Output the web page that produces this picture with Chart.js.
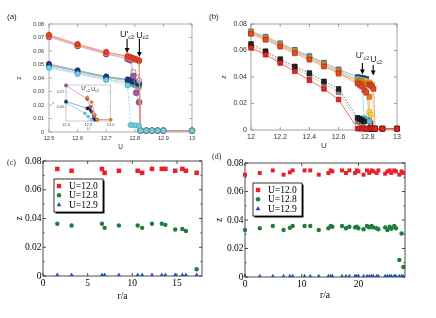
<!DOCTYPE html>
<html>
<head>
<meta charset="utf-8">
<script src="https://cdn.jsdelivr.net/npm/chart.js@4.4.1/dist/chart.umd.min.js"></script>
<style>
  html, body { margin: 0; padding: 0; background: #fff; }
  #fig { position: relative; width: 436px; height: 318px; overflow: hidden; }
  .panel { position: absolute; }
  .lbl { position: absolute; font: 8px "Liberation Sans", Arial, sans-serif; line-height: 1; color: #222; }
  .serif { font-family: "Liberation Serif", "Times New Roman", serif; }
</style>
</head>
<body>
<div id="fig">
  <canvas class="panel" id="chartA" width="216" height="159" style="left:0;top:0"></canvas>
  <canvas class="panel" id="chartIn" width="66" height="52" style="left:50px;top:80px"></canvas>
  <canvas class="panel" id="chartB" width="220" height="159" style="left:216px;top:0"></canvas>
  <canvas class="panel" id="chartC" width="216" height="168" style="left:0;top:150px"></canvas>
  <canvas class="panel" id="chartD" width="220" height="168" style="left:216px;top:150px"></canvas>
  <div class="lbl" style="left:7px;top:13px">(a)</div>
  <div class="lbl" style="left:209px;top:13px">(b)</div>
  <div class="lbl serif" style="left:7px;top:159px">(c)</div>
  <div class="lbl serif" style="left:212px;top:153px">(d)</div>
</div>
<script>
// ---- panel (a): z vs U, several lattice sites ----
const uA = [12.5, 12.6, 12.7, 12.775, 12.785, 12.795, 12.805, 12.815, 12.82, 12.84, 12.86, 12.88, 12.9, 13.0];
const aRed    = [0.0720, 0.0652, 0.0593, 0.0563, 0.0556, 0.0548, 0.0540, 0.0531, 0.001, 0.001, 0.001, 0.001, 0.001, 0.001];
const aOrange = [0.0716, 0.0648, 0.0589, 0.0560, 0.0553, 0.0545, 0.0537, 0.0528, 0.001, 0.001, 0.001, 0.001, 0.001, 0.001];
const aSalmon = [0.0709, 0.0642, 0.0583, 0.0555, 0.0548, 0.0540, 0.0532, 0.0523, 0.001, 0.001, 0.001, 0.001, 0.001, 0.001];
const aGold   = [0.0713, 0.0645, 0.0586, 0.0558, 0.0551, 0.0543, 0.0535, 0.0525, 0.001, 0.001, 0.001, 0.001, 0.001, 0.001];
const aPurple = [0.0706, 0.0638, 0.0578, 0.0540, 0.0532, 0.0415, 0.0290, 0.0220, 0.001, 0.001, 0.001, 0.001, 0.001, 0.001];
const aGray   = [0.0703, 0.0636, 0.0576, 0.0550, 0.0543, 0.0445, 0.0410, 0.0380, 0.001, 0.001, 0.001, 0.001, 0.001, 0.001];
const aNavy   = [0.0505, 0.0457, 0.0412, 0.0390, 0.0385, 0.0378, 0.0371, 0.0362, 0.001, 0.001, 0.001, 0.001, 0.001, 0.001];
const aBlack  = [0.0498, 0.0452, 0.0407, 0.0386, 0.0380, 0.0373, 0.0364, 0.0356, 0.001, 0.001, 0.001, 0.001, 0.001, 0.001];
const aGreen  = [0.0493, 0.0448, 0.0403, 0.0380, 0.0374, 0.0367, 0.0359, 0.0350, 0.001, 0.001, 0.001, 0.001, 0.001, 0.001];
const aSky    = [0.0482, 0.0437, 0.0392, 0.0365, 0.0358, 0.0350, 0.0342, 0.0333, 0.001, 0.001, 0.001, 0.001, 0.001, 0.001];
const aCyan   = [0.0475, 0.0430, 0.0385, 0.0345, 0.0052, 0.0050, 0.0048, 0.0046, 0.001, 0.001, 0.001, 0.001, 0.001, 0.001];
const xTicksA = [12.5, 12.6, 12.7, 12.8, 12.9, 13.0];
const xLabelsA = ['12.5', '12.6', '12.7', '12.8', '12.9', '13'];
const yTicksA = [0, 0.01, 0.02, 0.03, 0.04, 0.05, 0.06, 0.07, 0.08];
const yLabelsA = ['0', '0.01', '0.02', '0.03', '0.04', '0.05', '0.06', '0.07', '0.08'];
const ucA = [12.773, 12.816];   // U'c2, Uc2

// inset of (a)
const uIn      = [12.6, 12.77, 12.79, 12.8, 12.82, 12.83, 12.85, 12.86, 12.88, 13.0];
const inPurple = [0.0747, null, 0.0653, null, 0.0598, null, 0.0531, null, 0.0509, null];
const inNavy   = [0.0636, null, 0.0587, null, null, 0.0564, null, 0.0509, null, null];
const inCyan   = [0.0627, 0.0553, null, 0.0531, null, 0.0509, null, null, null, 0.0509];
const inOrange = [null, null, 0.0664, null, null, 0.0631, null, 0.0542, 0.0509, 0.0509];
const inBlack  = [null, null, null, 0.0590, 0.0575, null, 0.0520, null, null, null];
const xTicksIn = [12.6, 12.8, 13.0];
const xLabelsIn = ['12.6', '12.8', '13.0'];
const yTicksIn = [0.06, 0.07];
const yLabelsIn = ['0.06', '0.07'];

// ---- panel (b) ----
const uB = [12.0, 12.1, 12.2, 12.3, 12.4, 12.5, 12.6, 12.73, 12.745, 12.76, 12.775, 12.79, 12.81, 12.82, 12.83, 12.84, 12.85, 12.9, 13.0];
const bRed    = [0.0620, 0.0568, 0.0505, 0.0443, 0.0375, 0.0310, 0.0230, 0.001, 0.001, 0.001, 0.001, 0.001, 0.001, 0.001, 0.001, 0.001, 0.001, 0.001, 0.001];
const bBlack  = [0.0650, 0.0595, 0.0535, 0.0480, 0.0430, 0.0367, 0.0310, 0.0092, 0.0085, 0.0075, 0.0065, 0.001, 0.001, 0.001, 0.001, 0.001, 0.001, 0.001, 0.001];
const bGray   = [0.0635, 0.0580, 0.0520, 0.0465, 0.0410, 0.0350, 0.0285, 0.0065, 0.0058, 0.0050, 0.001, 0.001, 0.001, 0.001, 0.001, 0.001, 0.001, 0.001, 0.001];
const bBlue   = [0.0745, 0.0705, 0.0655, 0.0605, 0.0558, 0.0508, 0.0458, 0.0400, 0.0397, 0.0394, 0.0390, 0.0386, 0.0070, 0.0050, 0.001, 0.001, 0.001, 0.001, 0.001];
const bYellow = [0.0740, 0.0700, 0.0650, 0.0598, 0.0550, 0.0498, 0.0420, 0.0385, 0.0381, 0.0377, 0.0373, 0.0368, 0.0135, 0.0115, 0.001, 0.001, 0.001, 0.001, 0.001];
const bCyan   = [0.0738, 0.0697, 0.0648, 0.0600, 0.0552, 0.0502, 0.0452, 0.0380, 0.0375, 0.0370, 0.0090, 0.0080, 0.0065, 0.001, 0.001, 0.001, 0.001, 0.001, 0.001];
const bGold   = [0.0735, 0.0693, 0.0643, 0.0593, 0.0545, 0.0494, 0.0445, 0.0372, 0.0367, 0.0362, 0.0357, 0.0352, 0.0360, 0.0350, 0.0340, 0.001, 0.001, 0.001, 0.001];
const bOrange = [0.0730, 0.0688, 0.0638, 0.0588, 0.0540, 0.0488, 0.0438, 0.0362, 0.0355, 0.0347, 0.0340, 0.0280, 0.0250, 0.001, 0.001, 0.001, 0.001, 0.001, 0.001];
const bRedOr  = [0.0725, 0.0680, 0.0628, 0.0578, 0.0530, 0.0478, 0.0428, 0.0350, 0.0340, 0.0328, 0.0300, 0.0285, 0.0345, 0.0335, 0.0325, 0.0310, 0.001, 0.001, 0.001];
const xTicksB = [12.0, 12.2, 12.4, 12.6, 12.8, 13.0];
const xLabelsB = ['12', '12.2', '12.4', '12.6', '12.8', '13'];
const yTicksB = [0, 0.02, 0.04, 0.06, 0.08];
const yLabelsB = ['0', '0.02', '0.04', '0.06', '0.08'];
const ucB = [12.763, 12.837];

// ---- panel (c): z vs r/a ----
const rC = [1.6, 3.2, 6.6, 6.9, 8.5, 10.6, 11.1, 12.2, 13.3, 13.7, 14.8, 15.6, 16.0, 17.2];
const zC120 = [0.0745, 0.0732, 0.0745, 0.0718, 0.0732, 0.0732, 0.0718, 0.0745, 0.0745, 0.0745, 0.0732, 0.0745, 0.0732, 0.0718];
const zC128 = [0.0363, 0.0351, 0.0363, 0.0335, 0.0351, 0.0351, 0.0335, 0.0363, 0.0363, 0.0356, 0.0323, 0.0327, 0.0313, 0.0047];
const zC129 = [0.0008, 0.0008, 0.0008, 0.0008, 0.0008, 0.0008, 0.0008, 0.0008, 0.0008, 0.0008, 0.0008, 0.0008, 0.0008, 0.0008];
const xTicksC = [0, 5, 10, 15];

// ---- panel (d) ----
const rD = [0, 2.6, 4.9, 6.8, 7.9, 8.4, 10.5, 11.5, 13.0, 14.7, 15.1, 15.4, 17.1, 17.8, 18.4, 19.4, 19.7, 20.0, 20.9, 21.5, 21.9, 22.3, 22.6, 23.2, 23.5, 24.7, 25.1, 25.5, 25.8, 26.3, 26.6, 27.2, 27.6, 27.9];
const zD120 = [0.0718, 0.0730, 0.0748, 0.0718, 0.0734, 0.0748, 0.0748, 0.0748, 0.0718, 0.0730, 0.0748, 0.0741, 0.0748, 0.0730, 0.0748, 0.0730, 0.0748, 0.0741, 0.0718, 0.0748, 0.0730, 0.0748, 0.0741, 0.0730, 0.0748, 0.0725, 0.0741, 0.0748, 0.0730, 0.0748, 0.0741, 0.0718, 0.0741, 0.0730];
const zD128 = [0.0330, 0.0342, 0.0358, 0.0330, 0.0345, 0.0358, 0.0358, 0.0358, 0.0330, 0.0342, 0.0358, 0.0353, 0.0358, 0.0342, 0.0353, 0.0348, 0.0353, 0.0342, 0.0335, 0.0358, 0.0348, 0.0358, 0.0348, 0.0342, 0.0335, 0.0348, 0.0330, 0.0353, 0.0339, 0.0358, 0.0342, 0.0120, 0.0305, 0.0070];
const zD129 = [0.0008, 0.0008, 0.0008, 0.0008, 0.0008, 0.0008, 0.0008, 0.0008, 0.0008, 0.0008, 0.0008, 0.0008, 0.0008, 0.0008, 0.0008, 0.0008, 0.0008, 0.0008, 0.0008, 0.0008, 0.0008, 0.0008, 0.0008, 0.0008, 0.0008, 0.0008, 0.0008, 0.0008, 0.0008, 0.0008, 0.0008, 0.0008, 0.0008, 0.0008];
const xTicksD = [0, 10, 20];
const yTicksCD = [0, 0.02, 0.04, 0.06, 0.08];
const yLabelsCD = ['0', '0.02', '0.04', '0.06', '0.08'];
const minorCD = [0.01, 0.03, 0.05, 0.07];
const legendLabels = ['U=12.0', 'U=12.8', 'U=12.9'];

const SANS = '"Liberation Sans", Arial, sans-serif';
const SERIF = '"Liberation Serif", "Times New Roman", serif';

function pts(xs, ys) {
    return xs.map((x, i) => ({ x: x, y: ys[i] }));
}

// box with inward ticks on all four sides
const framePlugin = {
    id: 'frame',
    beforeDatasetsDraw(chart, args, o) {
        const { ctx, chartArea: a, scales: { x, y } } = chart;
        ctx.save();
        ctx.strokeStyle = o.color;
        ctx.lineWidth = o.width;
        ctx.strokeRect(a.left, a.top, a.right - a.left, a.bottom - a.top);
        ctx.beginPath();
        x.ticks.forEach(t => {
            const px = x.getPixelForValue(t.value);
            ctx.moveTo(px, a.bottom); ctx.lineTo(px, a.bottom - o.tick);
            ctx.moveTo(px, a.top); ctx.lineTo(px, a.top + o.tick);
        });
        y.ticks.forEach(t => {
            const py = y.getPixelForValue(t.value);
            ctx.moveTo(a.left, py); ctx.lineTo(a.left + o.tick, py);
            ctx.moveTo(a.right, py); ctx.lineTo(a.right - o.tick, py);
        });
        (o.minorY || []).forEach(v => {
            const py = y.getPixelForValue(v);
            ctx.moveTo(a.left, py); ctx.lineTo(a.left + o.tick / 2, py);
            ctx.moveTo(a.right, py); ctx.lineTo(a.right - o.tick / 2, py);
        });
        ctx.stroke();
        ctx.restore();
    }
};

// U'c2 / Uc2 labels, with an arrow when one is asked for
const arrowPlugin = {
    id: 'arrows',
    afterDatasetsDraw(chart, args, o) {
        if (!o.items) return;
        const { ctx, scales: { x, y } } = chart;
        ctx.save();
        o.items.forEach(it => {
            const px = x.getPixelForValue(it.u);
            if (it.from !== undefined) {
                const y0 = y.getPixelForValue(it.from);
                const y1 = y.getPixelForValue(it.to);
                ctx.strokeStyle = '#000';
                ctx.fillStyle = '#000';
                ctx.lineWidth = 1.1;
                ctx.beginPath();
                ctx.moveTo(px, y0); ctx.lineTo(px, y1 - 4);
                ctx.stroke();
                ctx.beginPath();
                ctx.moveTo(px - 2.4, y1 - 5); ctx.lineTo(px + 2.4, y1 - 5); ctx.lineTo(px, y1);
                ctx.closePath(); ctx.fill();
            }
            const main = it.prime ? "U'" : 'U';
            ctx.font = o.size + 'px ' + SANS;
            const wm = ctx.measureText(main).width;
            ctx.font = (o.size * 0.62) + 'px ' + SANS;
            const ws = ctx.measureText('c2').width;
            const left = px + (it.dx || 0) - (wm + ws) / 2;
            const ty = y.getPixelForValue(it.text);
            ctx.fillStyle = '#222';
            ctx.font = o.size + 'px ' + SANS;
            ctx.fillText(main, left, ty);
            ctx.font = (o.size * 0.62) + 'px ' + SANS;
            ctx.fillText('c2', left + wm, ty + o.size * 0.22);
        });
        ctx.restore();
    }
};

// boxed legend with shadow, drawn inside the plot
const boxLegend = {
    id: 'boxLegend',
    afterDatasetsDraw(chart, args, o) {
        if (!o.w) return;
        const { ctx, chartArea: a } = chart;
        const x0 = a.left + o.dx, y0 = a.top + o.dy;
        ctx.save();
        ctx.fillStyle = '#000';
        ctx.fillRect(x0 + 1.5, y0 + 1.5, o.w, o.h);
        ctx.fillStyle = '#fff';
        ctx.fillRect(x0, y0, o.w, o.h);
        ctx.strokeStyle = '#000';
        ctx.lineWidth = 0.8;
        ctx.strokeRect(x0, y0, o.w, o.h);
        chart.data.datasets.forEach((ds, i) => {
            const cx = x0 + o.mx, cy = y0 + o.top + i * o.row;
            ctx.fillStyle = ds.backgroundColor;
            ctx.beginPath();
            if (ds.pointStyle === 'rect') {
                ctx.rect(cx - 2.2, cy - 2.2, 4.4, 4.4);
            } else if (ds.pointStyle === 'triangle') {
                ctx.moveTo(cx, cy - 2.6); ctx.lineTo(cx + 2.4, cy + 1.6); ctx.lineTo(cx - 2.4, cy + 1.6); ctx.closePath();
            } else {
                ctx.arc(cx, cy, 2.2, 0, Math.PI * 2);
            }
            ctx.fill();
            ctx.fillStyle = '#000';
            ctx.font = o.size + 'px ' + SERIF;
            ctx.textBaseline = 'middle';
            ctx.fillText(ds.label, x0 + o.tx, cy + 0.5);
        });
        ctx.restore();
    }
};

function axis(min, max, tickVals, labels, font, pad, size, title, titleFont, titlePad, color, isX) {
    const s = {
        type: 'linear', min: min, max: max,
        afterBuildTicks: sc => { sc.ticks = tickVals.map(v => ({ value: v })); },
        ticks: { autoSkip: false, maxRotation: 0, padding: pad, font: font, color: color,
                 callback: (v, i) => labels[i] },
        grid: { display: false, drawTicks: false },
        border: { display: false },
        title: { display: true, text: title, font: titleFont, color: color, padding: titlePad }
    };
    if (isX) s.afterFit = sc => { sc.height = size; };
    else s.afterFit = sc => { sc.width = size; };
    return s;
}

function lineSet(label, xs, ys, o) {
    return Object.assign({
        label: label, data: pts(xs, ys), showLine: true, spanGaps: true, clip: false,
        borderWidth: 0.8, pointBorderWidth: 0.6, pointRadius: 2.6, pointStyle: 'circle'
    }, o);
}

function makeChart(id, datasets, scales, padding, plugins) {
    return new Chart(document.getElementById(id), {
        type: 'scatter',
        data: { datasets: datasets },
        options: {
            responsive: false, animation: false, events: [],
            layout: { padding: padding },
            scales: scales,
            plugins: Object.assign({ legend: { display: false }, tooltip: { enabled: false } }, plugins)
        },
        plugins: [framePlugin, arrowPlugin, boxLegend]
    });
}

// ---------- (a) ----------
const fA = { size: 5.5, family: SANS };
const tA = { size: 6.5, family: SANS };
makeChart('chartA', [
    lineSet('cyan', uA, aCyan, { borderColor: 'rgba(90,200,220,0.8)', backgroundColor: '#6fd0e0', pointBorderColor: '#3a9fb5', borderDash: [2, 1.5] }),
    lineSet('red', uA, aRed, { borderColor: 'rgba(240,120,110,0.8)', backgroundColor: '#e8402c', pointBorderColor: '#b02010' }),
    lineSet('orange', uA, aOrange, { borderColor: 'rgba(245,160,110,0.8)', backgroundColor: '#f39020', pointBorderColor: '#c06010' }),
    lineSet('salmon', uA, aSalmon, { borderColor: 'rgba(245,170,160,0.8)', backgroundColor: '#f4a08a', pointBorderColor: '#d07060' }),
    lineSet('gold', uA, aGold, { borderColor: 'rgba(245,190,120,0.8)', backgroundColor: '#f6c040', pointBorderColor: '#c09020' }),
    lineSet('purple', uA, aPurple, { borderColor: 'rgba(200,140,200,0.8)', backgroundColor: '#a05aa8', pointBorderColor: '#703878', pointRadius: 3 }),
    lineSet('gray', uA, aGray, { borderColor: 'rgba(160,160,160,0.7)', backgroundColor: 'rgba(255,255,255,0.6)', pointBorderColor: '#777', pointBorderWidth: 0.8, borderDash: [1.5, 1.5] }),
    lineSet('navy', uA, aNavy, { borderColor: 'rgba(110,140,200,0.8)', backgroundColor: '#1f3c8c', pointBorderColor: '#10204c' }),
    lineSet('black', uA, aBlack, { borderColor: 'rgba(120,120,120,0.7)', backgroundColor: '#333', pointBorderColor: '#000', pointRadius: 2 }),
    lineSet('green', uA, aGreen, { borderColor: 'rgba(120,190,120,0.8)', backgroundColor: '#3aa040', pointBorderColor: '#206020' }),
    lineSet('sky', uA, aSky, { borderColor: 'rgba(140,180,230,0.8)', backgroundColor: '#80b0e0', pointBorderColor: '#5080b0' })
], {
    x: axis(12.5, 13.0, xTicksA, xLabelsA, fA, 3, 22, 'U', tA, { top: 0, bottom: 3 }, '#333', true),
    y: axis(0, 0.08, yTicksA, yLabelsA, fA, 5, 40, 'z', tA, { top: 6, bottom: 0 }, '#333', false)
}, { left: 9, right: 24, top: 24, bottom: 5 }, {
    frame: { color: '#999', width: 0.8, tick: 3 },
    arrows: { size: 9, items: [
        { u: ucA[0], from: 0.0690, to: 0.0585, text: 0.0706, prime: true, dx: 0 },
        { u: ucA[1], from: 0.0690, to: 0.0556, text: 0.0700, prime: false, dx: 3 }
    ] }
});

// ---------- inset of (a) ----------
const fIn = { size: 4, family: SANS };
makeChart('chartIn', [
    lineSet('orange', uIn, inOrange, { borderColor: '#f08040', backgroundColor: '#f39020', pointBorderColor: '#c06010', pointRadius: 1.4, borderWidth: 0.7 }),
    lineSet('purple', uIn, inPurple, { borderColor: '#d080c0', backgroundColor: '#a05aa8', pointBorderColor: '#703878', pointRadius: 1.6, borderWidth: 0.7 }),
    lineSet('black', uIn, inBlack, { borderColor: '#666', backgroundColor: '#222', pointBorderColor: '#000', pointRadius: 1.2, borderWidth: 0.6 }),
    lineSet('navy', uIn, inNavy, { borderColor: '#6080c0', backgroundColor: '#1f3c8c', pointBorderColor: '#10204c', pointRadius: 1.5, borderWidth: 0.7 }),
    lineSet('cyan', uIn, inCyan, { borderColor: '#70c8e0', backgroundColor: '#6fd0e0', pointBorderColor: '#3a9fb5', pointRadius: 1.4, borderWidth: 0.7 })
], {
    x: axis(12.6, 13.0, xTicksIn, xLabelsIn, fIn, 1.5, 11, 'U', fIn, { top: 0, bottom: 1 }, '#555', true),
    y: axis(0.05, 0.075, yTicksIn, yLabelsIn, fIn, 1.5, 16, 'z', fIn, { top: 0, bottom: 0 }, '#555', false)
}, { left: 0, right: 4, top: 5, bottom: 0 }, {
    frame: { color: '#aaa', width: 0.6, tick: 1.5 },
    arrows: { size: 5.5, items: [
        { u: 12.775, text: 0.0712, prime: true, dx: 0 },
        { u: 12.86, text: 0.0708, prime: false, dx: 0 }
    ] }
});

// ---------- (b) ----------
const fB = { size: 7, family: SANS };
const rectB = { pointStyle: 'rect', pointRadius: 3.3, pointBorderWidth: 0.6 };
makeChart('chartB', [
    lineSet('red', uB, bRed, Object.assign({ borderColor: '#f04848', backgroundColor: '#e82020', pointBorderColor: '#a01010' }, rectB)),
    lineSet('black', uB, bBlack, Object.assign({ borderColor: '#555', backgroundColor: '#222', pointBorderColor: '#000', borderDash: [1.5, 1.5] }, rectB)),
    lineSet('gray', uB, bGray, Object.assign({ borderColor: '#999', backgroundColor: '#8a8a8a', pointBorderColor: '#555', borderDash: [1.5, 1.5] }, rectB)),
    lineSet('redor', uB, bRedOr, Object.assign({ borderColor: 'rgba(240,110,90,0.8)', backgroundColor: '#e84a28', pointBorderColor: '#a02810' }, rectB)),
    lineSet('orange', uB, bOrange, Object.assign({ borderColor: 'rgba(245,160,80,0.8)', backgroundColor: '#f07a20', pointBorderColor: '#b05010' }, rectB)),
    lineSet('gold', uB, bGold, Object.assign({ borderColor: 'rgba(245,190,100,0.8)', backgroundColor: '#f8a830', pointBorderColor: '#c07810' }, rectB)),
    lineSet('cyan', uB, bCyan, Object.assign({ borderColor: 'rgba(110,200,220,0.8)', backgroundColor: '#60c0d8', pointBorderColor: '#3a90a8' }, rectB)),
    lineSet('yellow', uB, bYellow, Object.assign({ borderColor: 'rgba(240,220,80,0.8)', backgroundColor: '#f6e040', pointBorderColor: '#c0a820' }, rectB)),
    lineSet('blue', uB, bBlue, Object.assign({ borderColor: 'rgba(110,140,210,0.8)', backgroundColor: '#2850a8', pointBorderColor: '#102868' }, rectB))
], {
    x: axis(12.0, 13.0, xTicksB, xLabelsB, fB, 3, 24, 'U', { size: 8, family: SANS }, { top: 0, bottom: 3 }, '#333', true),
    y: axis(0, 0.08, yTicksB, yLabelsB, fB, 4, 35, 'z', fB, { top: 4, bottom: 0 }, '#333', false)
}, { left: 0, right: 39, top: 24, bottom: 5 }, {
    frame: { color: '#888', width: 0.8, tick: 3 },
    arrows: { size: 8.5, items: [
        { u: ucB[0], from: 0.0505, to: 0.0419, text: 0.0540, prime: true, dx: 0 },
        { u: ucB[1], from: 0.0490, to: 0.0411, text: 0.0510, prime: false, dx: 3 }
    ] }
});

// ---------- (c) and (d) ----------
const fCD = { size: 9.5, family: SERIF };
function siteSets(xs, z120, z128, z129, sq, dot, tri) {
    return [
        { label: legendLabels[0], data: pts(xs, z120), clip: false, pointStyle: 'rect', pointRadius: sq, backgroundColor: '#e8202a', borderWidth: 0 },
        { label: legendLabels[1], data: pts(xs, z128), clip: false, pointStyle: 'circle', pointRadius: dot, backgroundColor: '#1e7d3a', borderWidth: 0 },
        { label: legendLabels[2], data: pts(xs, z129), clip: false, pointStyle: 'triangle', pointRadius: tri, backgroundColor: '#2050b0', borderWidth: 0 }
    ];
}
makeChart('chartC', siteSets(rC, zC120, zC128, zC129, 3.2, 2.2, 2.3), {
    x: axis(0, 17.8, xTicksC, ['0', '5', '10', '15'], fCD, 2, 28, 'r/a', fCD, { top: 0, bottom: 2.3 }, '#000', true),
    y: axis(0, 0.08, yTicksCD, yLabelsCD, fCD, 1.5, 43, 'z', fCD, { top: 13.3, bottom: 0 }, '#000', false)
}, { left: 0, right: 14, top: 11, bottom: 14 }, {
    frame: { color: '#222', width: 0.8, tick: 3, minorY: minorCD },
    boxLegend: { dx: 11, dy: 18, w: 49, h: 33, mx: 5, tx: 15, top: 7, row: 9.3, size: 9.5 }
});
makeChart('chartD', siteSets(rD, zD120, zD128, zD129, 2.8, 2.2, 2.1), {
    x: axis(0, 28.2, xTicksD, ['0', '10', '20'], fCD, 2, 28, 'r/a', fCD, { top: 0, bottom: 4.3 }, '#000', true),
    y: axis(0, 0.08, yTicksCD, yLabelsCD, fCD, 1.5, 29, 'z', fCD, { top: -2.5, bottom: 0 }, '#000', false)
}, { left: 0, right: 31, top: 13, bottom: 13 }, {
    frame: { color: '#222', width: 0.8, tick: 3, minorY: minorCD },
    boxLegend: { dx: 8, dy: 20, w: 49, h: 33, mx: 5, tx: 15, top: 7, row: 9.3, size: 9.5 }
});
</script>
</body>
</html>
